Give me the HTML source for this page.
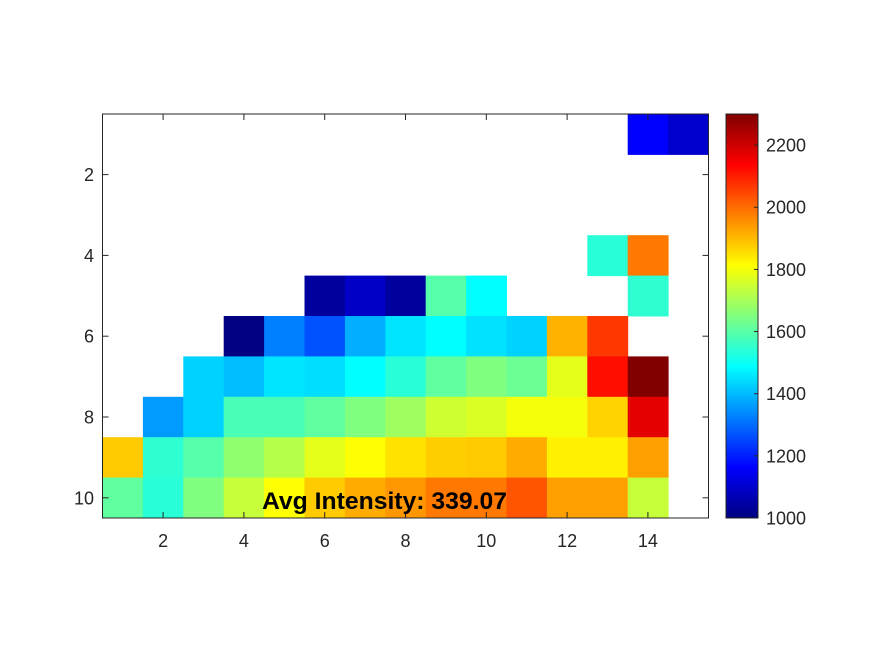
<!DOCTYPE html>
<html><head><meta charset="utf-8"><style>
body{margin:0;background:#fff;}
svg{display:block;font-family:"Liberation Sans",Arial,sans-serif;}
</style></head><body>
<svg id="chart" width="875" height="656" viewBox="0 0 875 656">
<defs>
<linearGradient id="jet" x1="0" y1="1" x2="0" y2="0">
<stop offset="0" stop-color="#000080"/><stop offset="0.125" stop-color="#0000ff"/>
<stop offset="0.375" stop-color="#00ffff"/><stop offset="0.625" stop-color="#ffff00"/>
<stop offset="0.875" stop-color="#ff0000"/><stop offset="1" stop-color="#800000"/>
</linearGradient>
</defs>
<g id="cells"></g>
<g id="axes"></g>
<text x="262" y="509" font-size="24" font-weight="bold" fill="#000" textLength="245" lengthAdjust="spacingAndGlyphs">Avg Intensity: 339.07</text>
<rect x="726" y="114" width="32" height="404" fill="url(#jet)" stroke="#262626" stroke-width="1"/>
<g id="cbticks"></g>
</svg>
<script>
const rowsLabels = [1,2,3,4,5,6,7,8,9,10];
const colLabels = [1,2,3,4,5,6,7,8,9,10,11,12,13,14,15];
const N = null;
const values = [
[N,N,N,N,N,N,N,N,N,N,N,N,N,1160,1100],
[N,N,N,N,N,N,N,N,N,N,N,N,N,N,N],
[N,N,N,N,N,N,N,N,N,N,N,N,N,N,N],
[N,N,N,N,N,N,N,N,N,N,N,N,1540,1984,N],
[N,N,N,N,N,1040,1090,1040,1597,1487,N,N,N,1545,N],
[N,N,N,1000,1325,1266,1386,1455,1487,1450,1430,1910,2066,N,N],
[N,N,1430,1405,1455,1445,1487,1540,1610,1650,1625,1780,2120,2300,N],
[N,1360,1430,1580,1580,1610,1650,1690,1750,1765,1800,1800,1870,2170,N],
[1880,1545,1597,1670,1720,1780,1810,1850,1875,1880,1920,1830,1830,1935,N],
[1610,1540,1650,1740,1810,1880,1920,1945,1985,1985,2030,1935,1935,1740,N]
];
const xTicks = [2,4,6,8,10,12,14];
const yTicks = [2,4,6,8,10];
const cbTicks = [1000,1200,1400,1600,1800,2000,2200];
const cMin = 1000, cMax = 2300;

const L=102.5,R=708.5,T=114,B=518;
const xs = v => L + (v-0.5)*(R-L)/15;
const ys = v => T + (v-0.5)*(B-T)/10;
const cs = v => B - (v-cMin)/(cMax-cMin)*(B-T);
function jet(v){
  let t=Math.max(0,Math.min(1,(v-cMin)/(cMax-cMin)));
  const f=(x)=>Math.max(0,Math.min(1,x));
  let r=f(Math.min(4*t-1.5,-4*t+4.5)),g=f(Math.min(4*t-0.5,-4*t+3.5)),b=f(Math.min(4*t+0.5,-4*t+2.5));
  return `rgb(${Math.round(r*255)},${Math.round(g*255)},${Math.round(b*255)})`;
}
const NS="http://www.w3.org/2000/svg";
const cells=document.getElementById('cells');
values.forEach((row,i)=>row.forEach((v,j)=>{
  if(v===null)return;
  const r=document.createElementNS(NS,'rect');
  
  
  const x0=xs(colLabels[j]-0.5),x1=xs(colLabels[j]+0.5),y0=ys(rowsLabels[i]-0.5),y1=ys(rowsLabels[i]+0.5);
  r.setAttribute('x',x0);r.setAttribute('y',y0);
  r.setAttribute('width',x1-x0+0.5);r.setAttribute('height',y1-y0+0.5);
  r.setAttribute('fill',jet(v));
  cells.appendChild(r);
}));
const ax=document.getElementById('axes');
function add(p,tag,attrs,text){const e=document.createElementNS(NS,tag);for(const k in attrs)e.setAttribute(k,attrs[k]);if(text!==undefined)e.textContent=text;p.appendChild(e);return e;}
const box=add(ax,'rect',{x:L,y:T,width:R-L,height:B-T,fill:'none',stroke:'#262626','stroke-width':1});


xTicks.forEach(v=>{
  const x=xs(v);
  add(ax,'line',{x1:x,x2:x,y1:B,y2:B-6,stroke:'#262626'});
  add(ax,'line',{x1:x,x2:x,y1:T,y2:T+6,stroke:'#262626'});
  const t=add(ax,'text',{x:x,y:547,'text-anchor':'middle','font-size':18,fill:'#262626'},v);
  
  
});
yTicks.forEach(v=>{
  const y=ys(v);
  add(ax,'line',{x1:L,x2:L+6,y1:y,y2:y,stroke:'#262626'});
  add(ax,'line',{x1:R,x2:R-6,y1:y,y2:y,stroke:'#262626'});
  const t=add(ax,'text',{x:94,y:y+6.5,'text-anchor':'end','font-size':18,fill:'#262626'},v);
  
  
});
const cb=document.getElementById('cbticks');
cbTicks.forEach(v=>{
  const y=cs(v);
  add(cb,'line',{x1:758,x2:754,y1:y,y2:y,stroke:'#262626'});
  const t=add(cb,'text',{x:766,y:y+6.5,'font-size':18,fill:'#262626'},v);
  
  
});
</script>
</body></html>
